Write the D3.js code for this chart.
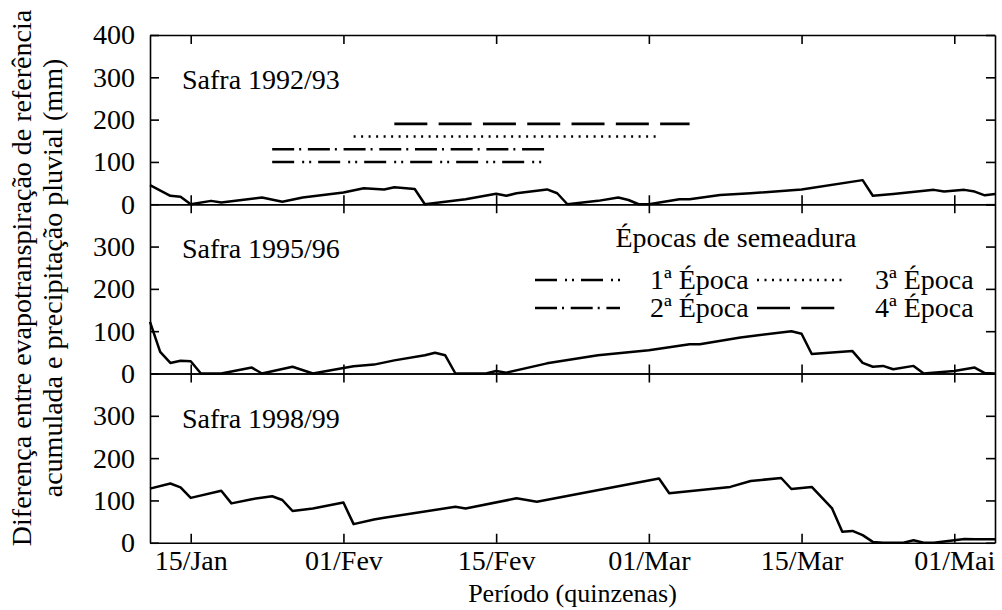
<!DOCTYPE html>
<html>
<head>
<meta charset="utf-8">
<script src="https://cdn.jsdelivr.net/npm/d3@7"></script>
<style>
  body { margin: 0; background: #fff; }
</style>
</head>
<body>
<svg id="chart" width="1002" height="610"></svg>
<script>
// Seasons (one panel each)
const seasons = ["Safra 1992/93", "Safra 1995/96", "Safra 1998/99"];

// Day index (15 = 15/Jan, 30 = 01/Fev, ...) and accumulated difference (mm)
const days9293 = [11,13,14,15,17,18,20,22,24,26,28,30,32,34,35,37,38,42,45,46,47,50,51,52,55,57,58,59,60,63,64,67,70,75,81,82,84,88,89,91,92,93,94];
const vals9293 = [45,20,18,0,8,4,10,16,6,16,22,28,38,35,40,36,0,12,25,20,26,35,26,0,8,16,10,0,0,12,12,22,26,35,57,20,24,34,30,34,30,21,24];

const days9596 = [11,12,13,14,15,16,18,21,22,25,27,30,31,33,35,38,39,40,41,44,45,46,50,55,60,64,65,69,74,75,76,80,81,82,83,84,86,87,90,92,93,94];
const vals9596 = [122,51,25,30,29,0,0,14,0,16,0,13,17,21,31,43,49,43,0,0,6,2,24,43,55,69,69,85,100,94,46,53,25,16,18,10,18,0,6,14,1,0];

const days9899 = [11,13,14,15,18,19,21,23,24,25,27,30,31,33,34,41,42,47,49,61,62,68,70,73,74,76,78,79,80,81,82,83,85,86,87,88,91,92,94];
const vals9899 = [128,140,131,106,123,93,103,110,101,75,81,95,44,55,59,85,81,105,97,152,117,132,146,153,127,132,81,26,28,18,2,0,0,6,0,0,9,8,8];

// Axis ticks
const xTickDays = [15, 30, 45, 60, 75, 90];
const xTickLabels = ["15/Jan", "01/Fev", "15/Fev", "01/Mar", "15/Mar", "01/Mai"];
const yTicksFirst = [0, 100, 200, 300, 400];
const yTicksOther = [0, 100, 200, 300];

// Sowing periods (drawn in the 1992/93 panel)
const sowingNames = ["1ª Época", "2ª Época", "3ª Época", "4ª Época"];
const sowingStart = [23, 23, 31, 35];
const sowingEnd   = [50, 50, 61, 64];
const sowingLevel = [100, 130, 160, 190];

// ---------------------------------------------------------------
const FONT = '"Liberation Serif", "Times New Roman", serif';
const FS = "28px";
const series = [
  days9293.map((d, i) => [d, vals9293[i]]),
  days9596.map((d, i) => [d, vals9596[i]]),
  days9899.map((d, i) => [d, vals9899[i]])
];
const dashes = ["22,8,2,5,2,7", "22,5,2,6.7", "2,5.5", "33,11.3"];

const svg = d3.select("#chart");
const left = 150, right = 995, top0 = 35, panelH = 169.25;
const tick = 9;

const x = d3.scaleLinear().domain([11, 94]).range([left, right]);

seasons.forEach((name, i) => {
  const top = top0 + i * panelH;
  const y = d3.scaleLinear().domain([0, 400]).range([top + panelH, top]);
  const g = svg.append("g");

  // data line
  g.append("path")
    .datum(series[i])
    .attr("fill", "none")
    .attr("stroke", "#000")
    .attr("stroke-width", 2.5)
    .attr("stroke-linejoin", "round")
    .attr("d", d3.line().x(d => x(d[0])).y(d => y(d[1])));

  // axes: ticks point inward on all four sides
  g.append("g").attr("transform", `translate(${left},0)`)
    .call(d3.axisLeft(y).tickValues(i === 0 ? yTicksFirst : yTicksOther)
      .tickSizeInner(-tick).tickSizeOuter(0).tickPadding(15));
  g.append("g").attr("transform", `translate(${right},0)`)
    .call(d3.axisRight(y).tickValues(yTicksFirst).tickSizeInner(-tick).tickSizeOuter(0).tickFormat(""));
  g.append("g").attr("transform", `translate(0,${top})`)
    .call(d3.axisTop(x).tickValues(xTickDays).tickSizeInner(-tick).tickSizeOuter(0).tickFormat(""));
  g.append("g").attr("transform", `translate(0,${top + panelH})`)
    .call(d3.axisBottom(x).tickValues(xTickDays).tickSizeInner(-tick).tickSizeOuter(0)
      .tickPadding(7)
      .tickFormat(i === 2 ? (d, k) => xTickLabels[k] : ""));

  g.selectAll(".domain, .tick line").attr("stroke", "#000").attr("stroke-width", 1.6);
  g.selectAll(".tick text").style("font-size", FS);

  // season label
  g.append("text")
    .attr("x", 182).attr("y", top + 54)
    .style("font-size", FS)
    .text(name);

  // sowing periods
  if (i === 0) {
    sowingNames.forEach((s, k) => {
      g.append("line")
        .attr("x1", x(sowingStart[k])).attr("x2", x(sowingEnd[k]))
        .attr("y1", y(sowingLevel[k])).attr("y2", y(sowingLevel[k]))
        .attr("stroke", "#000").attr("stroke-width", 2.6)
        .attr("stroke-dasharray", dashes[k]);
    });
  }

  // legend in the middle panel
  if (i === 1) {
    const lg = g.append("g");
    lg.append("text").attr("x", 736).attr("y", 247)
      .attr("text-anchor", "middle").style("font-size", FS)
      .text("Épocas de semeadura");
    const cols = [535, 757], rows = [280, 308];
    const textX = [650, 875];
    sowingNames.forEach((s, k) => {
      const c = Math.floor(k / 2), r = k % 2;
      lg.append("line")
        .attr("x1", cols[c]).attr("x2", cols[c] + 85)
        .attr("y1", rows[r]).attr("y2", rows[r])
        .attr("stroke", "#000").attr("stroke-width", 2.6)
        .attr("stroke-dasharray", dashes[k]);
      lg.append("text").attr("x", textX[c]).attr("y", rows[r] + 9)
        .style("font-size", FS).text(s);
    });
  }
});

// axis titles
svg.append("text")
  .attr("x", left + (right - left) / 2).attr("y", 602)
  .attr("text-anchor", "middle").style("font-size", "26px")
  .text("Período (quinzenas)");

const yTitle = svg.append("text")
  .attr("transform", "translate(0,278) rotate(-90)")
  .attr("text-anchor", "middle").style("font-size", FS);
yTitle.append("tspan").attr("x", 0).attr("y", 31)
  .text("Diferença entre evapotranspiração de referência");
yTitle.append("tspan").attr("x", 0).attr("y", 62)
  .text("acumulada e precipitação pluvial (mm)");

// one serif face for every label
svg.selectAll("text").style("font-family", FONT).style("fill", "#000");
</script>
</body>
</html>
